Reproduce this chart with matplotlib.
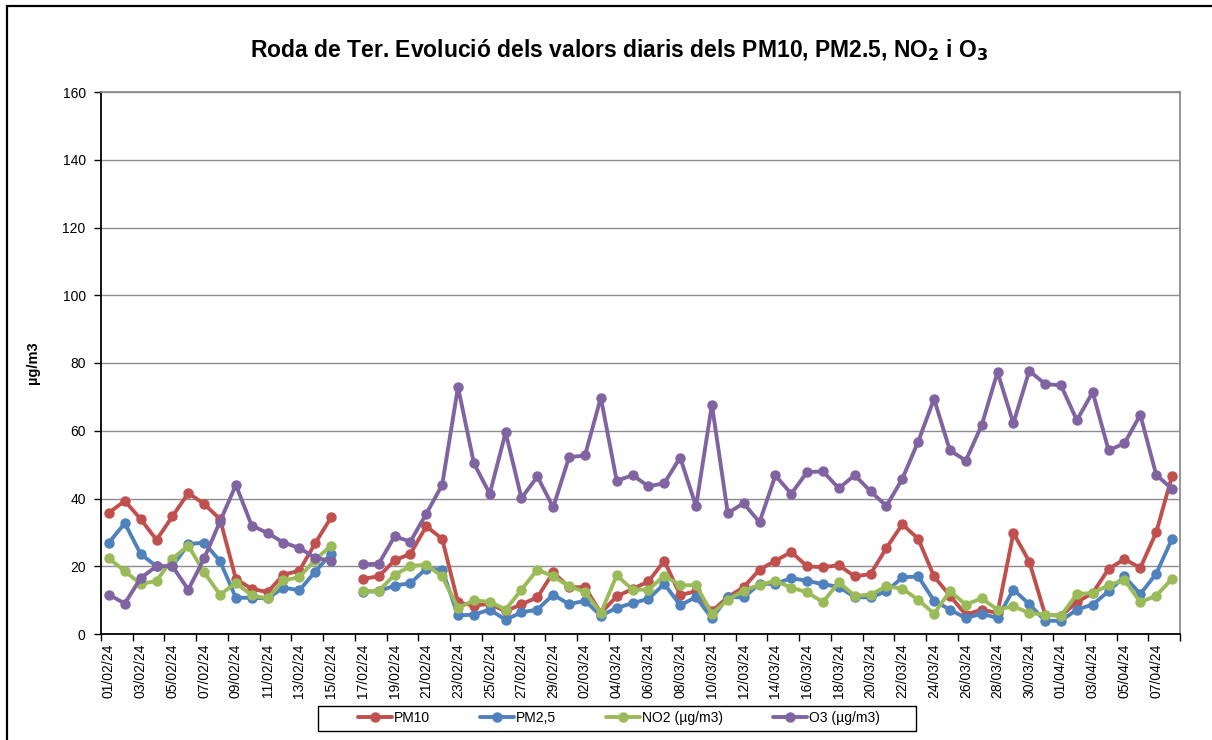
import numpy as np
import pandas as pd
import matplotlib
matplotlib.use("Agg")
import matplotlib.pyplot as plt
from matplotlib.patches import Rectangle

plt.rcParams["font.family"] = ["Liberation Sans", "DejaVu Sans"]

# ─── DADES ────────────────────────────────────────────────────────────────
dates = pd.date_range("2024-02-01", "2024-04-08", freq="D")
labels = [d.strftime("%d/%m/%y") for d in dates]

nan = np.nan
pm10 = [35.8, 39.3, 33.9, 27.8, 34.7, 41.6, 38.4, 33.9, 16.3, 13.3,
        12.4, 17.5, 18.7, 26.8, 34.4, nan, 16.3, 17.0, 21.7, 23.7,
        31.8, 28.1, 9.3, 8.4, 8.9, 6.7, 8.8, 10.8, 18.2, 13.8,
        13.8, 6.2, 11.1, 13.3, 15.5, 21.6, 11.5, 12.6, 6.7, 10.9,
        13.8, 19.0, 21.6, 24.2, 20.0, 19.7, 20.3, 17.0, 17.7, 25.4,
        32.4, 28.1, 17.0, 11.3, 5.7, 7.2, 6.2, 29.8, 21.4, 5.7,
        5.4, 9.4, 12.1, 19.2, 22.1, 19.5, 30.0, 46.7]
pm25 = [27.0, 32.7, 23.6, 20.0, 20.0, 26.5, 27.0, 21.5, 10.7, 10.7,
        10.5, 13.7, 12.9, 18.4, 23.7, nan, 12.5, 12.6, 14.3, 15.0,
        19.3, 19.0, 5.5, 5.7, 7.2, 4.2, 6.4, 7.2, 11.6, 8.8,
        9.8, 5.4, 7.7, 9.1, 10.4, 14.8, 8.5, 10.9, 4.6, 10.9,
        10.8, 14.8, 14.8, 16.5, 15.7, 14.7, 13.9, 10.9, 10.8, 12.6,
        16.7, 17.0, 9.8, 7.2, 4.7, 6.0, 4.7, 13.1, 8.8, 3.9,
        3.9, 7.2, 8.7, 12.6, 17.0, 11.8, 17.8, 28.1]
no2 = [22.3, 18.6, 14.7, 15.7, 22.2, 26.1, 18.2, 11.6, 15.1, 11.4,
       10.5, 15.8, 16.8, 21.9, 26.1, nan, 12.6, 12.7, 17.5, 20.0,
       20.5, 17.0, 7.7, 9.9, 9.5, 7.2, 13.1, 19.0, 17.0, 14.1,
       12.4, 6.2, 17.3, 13.1, 13.1, 17.2, 14.4, 14.4, 6.0, 10.1,
       12.8, 14.5, 15.7, 13.7, 12.3, 9.4, 15.3, 11.3, 11.6, 14.1,
       13.4, 10.1, 6.0, 12.6, 8.7, 10.5, 7.2, 8.2, 6.2, 5.7,
       5.4, 11.8, 12.1, 14.4, 16.0, 9.4, 11.3, 16.3]
o3 = [11.6, 9.0, 16.5, 20.0, 20.0, 13.1, 22.3, 33.2, 44.0, 32.0,
      29.8, 27.0, 25.4, 22.5, 21.6, nan, 20.6, 20.7, 28.8, 27.3,
      35.5, 44.0, 72.9, 50.4, 41.4, 59.5, 40.1, 46.5, 37.4, 52.2,
      52.7, 69.8, 45.2, 46.9, 43.6, 44.5, 52.1, 37.7, 67.7, 35.7,
      38.6, 33.0, 46.8, 41.4, 47.8, 48.0, 43.0, 46.9, 42.1, 37.8,
      45.8, 56.8, 69.4, 54.2, 51.2, 61.6, 77.3, 62.2, 77.7, 73.8,
      73.4, 63.1, 71.4, 54.2, 56.3, 64.7, 47.0, 42.8]

series_names = ["PM10", "PM2,5", "NO2 (µg/m3)", "O3 (µg/m3)"]
series_colors = ["#C0504D", "#4F81BD", "#9BBB59", "#8064A2"]

# ─── GRÀFIC ───────────────────────────────────────────────────────────────
W, H = 1212, 740
fig = plt.figure(figsize=(W / 100, H / 100), dpi=100)
ax = fig.add_axes([101 / W, 1 - 634 / H, (1180 - 101) / W, (634 - 92) / H])

x = np.arange(len(labels))
for vals, name, col in zip([pm10, pm25, no2, o3], series_names, series_colors):
    ax.plot(x, vals, color=col, lw=2.8, marker="o", ms=6.5, label=name,
            solid_capstyle="round", solid_joinstyle="round")

ax.set_xlim(-0.5, len(labels) - 0.5)
ax.set_ylim(0, 160)
ax.set_yticks(np.arange(0, 161, 20))
ax.grid(True, axis="y", color="#8c8c8c", lw=1.0)
ax.set_axisbelow(True)

# ticks a les fronteres cada 2 dies, etiquetes al centre
ax.set_xticks(np.arange(-0.5, len(labels), 2))
ax.set_xticklabels([])
ax.set_xticks(x[::2], minor=True)
ax.set_xticklabels(labels[::2], minor=True, rotation=90, fontsize=10)
ax.tick_params(axis="x", which="major", direction="out", length=5, width=1)
ax.tick_params(axis="x", which="minor", length=0, pad=7)
ax.tick_params(axis="y", direction="out", length=5, width=1, labelsize=10, pad=6)

for side in ["left", "bottom"]:
    ax.spines[side].set_color("black")
    ax.spines[side].set_linewidth(1.3)
for side in ["top", "right"]:
    ax.spines[side].set_color("#8c8c8c")
    ax.spines[side].set_linewidth(1.3)

ax.set_ylabel("µg/m3", fontsize=10.5, fontweight="bold", labelpad=16)

fig.text(0.511, 1 - 50 / H,
         "Roda de Ter. Evolució dels valors diaris dels PM10, PM2.5, NO$_\\mathbf{2}$ i O$_\\mathbf{3}$",
         ha="center", va="center", fontsize=16.5, fontweight="bold")

# llegenda: marc dibuixat a part, com a Excel
fig.legend(loc="center", bbox_to_anchor=(619 / W, 1 - 718 / H), ncol=4,
           frameon=False, fontsize=10, handlelength=2.45, columnspacing=3.6,
           handletextpad=0.15)
fig.patches.append(Rectangle((318 / W, 1 - 731 / H), (916 - 318) / W, 25 / H,
                             transform=fig.transFigure, fill=False,
                             edgecolor="black", lw=1.0))

# marc exterior
fig.patches.append(Rectangle((7 / W, -0.1), 1.2, 1 - 6 / H + 0.1,
                             transform=fig.transFigure, fill=False,
                             edgecolor="black", lw=1.6))

fig.savefig("out.png", dpi=100)
